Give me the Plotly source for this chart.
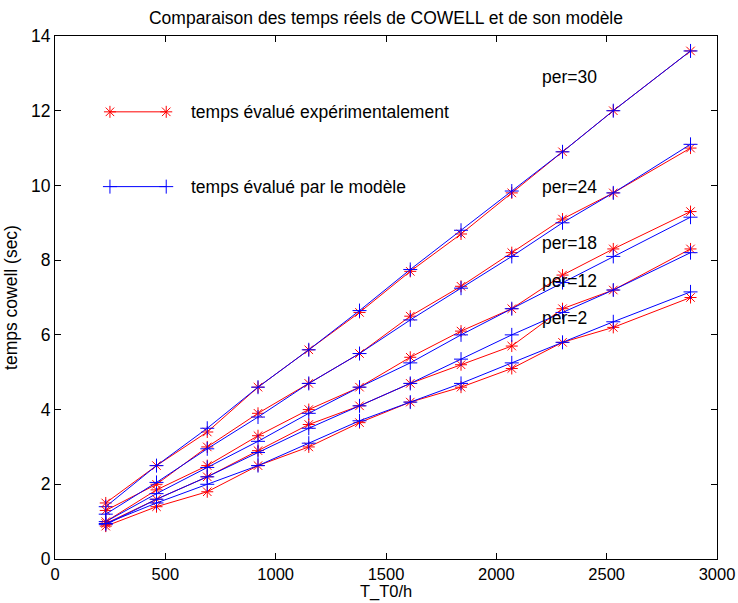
import plotly.graph_objects as go

# Abscissa: T_T0/h
t_h = [230, 460, 690, 920, 1150, 1380, 1610, 1840, 2070, 2300, 2530, 2880]

# Measured computation times (sec), one list per period
exp_per30 = [1.5, 2.5, 3.4, 4.6, 5.6, 6.6, 7.7, 8.7, 9.8, 10.9, 12.0, 13.6]
exp_per24 = [1.3, 2.0, 3.0, 3.9, 4.7, 5.5, 6.5, 7.3, 8.2, 9.1, 9.8, 11.0]
exp_per18 = [1.0, 1.85, 2.5, 3.3, 4.0, 4.6, 5.4, 6.1, 6.7, 7.6, 8.3, 9.3]
exp_per12 = [0.95, 1.6, 2.2, 2.9, 3.6, 4.1, 4.7, 5.2, 5.7, 6.7, 7.2, 8.3]
exp_per2 = [0.88, 1.4, 1.8, 2.5, 3.0, 3.65, 4.2, 4.6, 5.1, 5.8, 6.2, 7.0]

# Times predicted by the model (sec)
mod_per30 = [1.4, 2.5, 3.5, 4.6, 5.6, 6.65, 7.75, 8.8, 9.85, 10.9, 12.0, 13.6]
mod_per24 = [1.2, 2.05, 2.95, 3.8, 4.7, 5.5, 6.4, 7.25, 8.1, 9.0, 9.8, 11.1]
mod_per18 = [1.0, 1.75, 2.45, 3.15, 3.9, 4.6, 5.25, 6.0, 6.7, 7.4, 8.1, 9.15]
mod_per12 = [0.92, 1.6, 2.2, 2.85, 3.5, 4.1, 4.7, 5.35, 6.0, 6.6, 7.2, 8.2]
mod_per2 = [0.95, 1.5, 2.0, 2.5, 3.1, 3.7, 4.2, 4.7, 5.25, 5.8, 6.35, 7.15]

# Period labels and their anchor points
per_labels = ["per=30", "per=24", "per=18", "per=12", "per=2"]
per_label_x = [2200, 2200, 2200, 2200, 2200]
per_label_y = [12.9, 9.95, 8.45, 7.45, 6.45]

legend_labels = ["temps évalué expérimentalement", "temps évalué par le modèle"]

FONT = "Liberation Sans, Arial, Helvetica, sans-serif"
FS = 17.5
RED = "#ff0000"
BLUE = "#0000ff"

fig = go.Figure()

pairs = [(exp_per30, mod_per30), (exp_per24, mod_per24), (exp_per18, mod_per18),
         (exp_per12, mod_per12), (exp_per2, mod_per2)]
for e, m in pairs:
    fig.add_trace(go.Scatter(
        x=t_h, y=e, mode="lines+markers", showlegend=False,
        line=dict(color=RED, width=1),
        marker=dict(symbol="asterisk-open", size=10, color=RED,
                    line=dict(color=RED, width=1)),
    ))
    fig.add_trace(go.Scatter(
        x=t_h, y=m, mode="lines+markers", showlegend=False,
        line=dict(color=BLUE, width=1),
        marker=dict(symbol="cross-thin-open", size=10, color=BLUE,
                    line=dict(color=BLUE, width=1)),
    ))

# Legend samples drawn on an overlay axis spanning the plot area (0..1)
leg_x = [0.083, 0.168]
leg_y = [0.855, 0.712]
leg_styles = [(RED, "asterisk-open"), (BLUE, "cross-thin-open")]
for (col, sym), yy, lab in zip(leg_styles, leg_y, legend_labels):
    fig.add_trace(go.Scatter(
        x=leg_x, y=[yy, yy], xaxis="x2", yaxis="y2", mode="lines+markers",
        showlegend=False, hoverinfo="skip",
        line=dict(color=col, width=1),
        marker=dict(symbol=sym, size=10, color=col, line=dict(color=col, width=1)),
    ))
    fig.add_annotation(x=0.203, y=yy, xref="x2", yref="y2", text=lab,
                       showarrow=False, xanchor="left", yanchor="middle",
                       font=dict(family=FONT, size=FS, color="black"))

for lab, lx, ly in zip(per_labels, per_label_x, per_label_y):
    fig.add_annotation(x=lx, y=ly, xref="x", yref="y", text=lab, showarrow=False,
                       xanchor="left", yanchor="middle",
                       font=dict(family=FONT, size=FS, color="black"))

# x-axis title placed at the bottom edge of the figure
fig.add_annotation(x=0.5, y=0, xref="paper", yref="paper", yanchor="bottom",
                   yshift=-44, text="T_T0/h", showarrow=False,
                   font=dict(family=FONT, size=16.5, color="black"))

axis_common = dict(
    showgrid=False, zeroline=False, showline=True, linecolor="black", linewidth=1,
    mirror="ticks", ticks="inside", ticklen=6, tickcolor="black", tickwidth=1,
    automargin=False,
    tickfont=dict(family=FONT, size=FS, color="black"),
)

fig.update_layout(
    width=738, height=603,
    margin=dict(l=55, r=21, t=36, b=44),
    paper_bgcolor="white", plot_bgcolor="white",
    title=dict(text="Comparaison des temps réels de COWELL et de son modèle",
               x=0.523, xanchor="center", y=0.971, yanchor="middle",
               font=dict(family=FONT, size=FS, color="black")),
    xaxis=dict(range=[0, 3000], tickvals=[0, 500, 1000, 1500, 2000, 2500, 3000],
               **{**axis_common, "tickfont": dict(family=FONT, size=16.5, color="black")}),
    yaxis=dict(range=[0, 14], tickvals=[0, 2, 4, 6, 8, 10, 12, 14],
               title=dict(text="temps cowell (sec)", standoff=8,
                          font=dict(family=FONT, size=FS, color="black")),
               **axis_common),
    xaxis2=dict(range=[0, 1], overlaying="x", visible=False),
    yaxis2=dict(range=[0, 1], overlaying="y", visible=False),
)

fig.write_html("out.html")
